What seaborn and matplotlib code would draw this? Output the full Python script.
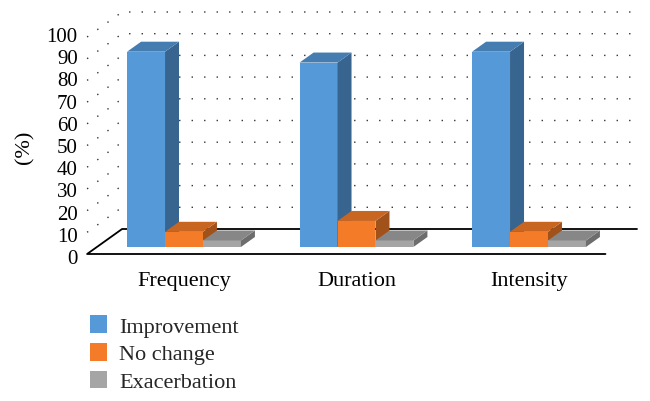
import numpy as np
import pandas as pd
import matplotlib.pyplot as plt
from matplotlib.patches import Polygon, Rectangle
import seaborn as sns

# data (percent of patients)
categories = ['Frequency', 'Duration', 'Intensity']
outcomes = ['Improvement', 'No change', 'Exacerbation']
improvement = [90, 85, 90]
no_change = [7, 12, 7]
exacerbation = [3, 3, 3]
y_ticks = list(range(0, 101, 10))

colors = ['#5599D8', '#F47C28', '#A5A5A5']

df = pd.DataFrame({
    'Category': categories * 3,
    'Outcome': np.repeat(outcomes, len(categories)),
    'Value': improvement + no_change + exacerbation,
})

sns.set_theme(style='white')
plt.rcParams['font.family'] = ['Liberation Serif', 'DejaVu Serif']

W, H = 650, 402
fig = plt.figure(figsize=(W / 100, H / 100), dpi=100)

# front plane of the bars: x unit = 172.5 px, y unit = 2.17 px
x_lo, x_hi = -0.6, 2.6
y_lo, y_hi = -10, 105
px_x = 172.5
px_y = 2.17
left_px = 184 + px_x * x_lo
base_px = 248  # pixel row of value 0 on the bar fronts
ax = fig.add_axes([left_px / W, (H - base_px + y_lo * px_y) / H,
                   (x_hi - x_lo) * px_x / W, (y_hi - y_lo) * px_y / H])

sns.barplot(data=df, x='Category', y='Value', hue='Outcome', order=categories,
            hue_order=outcomes, palette=colors, width=0.66, saturation=1,
            linewidth=0, ax=ax)
ax.set_xlim(x_lo, x_hi)
ax.set_ylim(y_lo, y_hi)
for s in ax.spines.values():
    s.set_visible(False)

# oblique depth vector (one bar depth = 14 px right, 10 px up)
ddx = 14 / px_x
ddy = 10 / px_y

# 3D sides and tops from the drawn bars
for p in list(ax.patches):
    x0, w, h = p.get_x(), p.get_width(), p.get_height()
    rgb = np.array(p.get_facecolor()[:3])
    z = 10 + x0
    p.set_zorder(z)
    top = Polygon([(x0, h), (x0 + w, h), (x0 + w + ddx, h + ddy), (x0 + ddx, h + ddy)],
                  closed=True, facecolor=rgb * 0.82, edgecolor='none', zorder=z + 0.001,
                  clip_on=False)
    side = Polygon([(x0 + w, 0), (x0 + w + ddx, ddy), (x0 + w + ddx, h + ddy), (x0 + w, h)],
                   closed=True, facecolor=rgb * 0.66, edgecolor='none', zorder=z + 0.001,
                   clip_on=False)
    ax.add_patch(side)
    ax.add_patch(top)

# floor and walls
f_left, f_right = -0.505, 2.50
d_front, d_back = -0.7, 1.8
fl = (f_left + d_front * ddx, d_front * ddy)
bl = (f_left + d_back * ddx, d_back * ddy)
fr = (f_right + d_front * ddx, d_front * ddy)
br = (f_right + d_back * ddx - 0.02, d_back * ddy)
ax.plot([fr[0], fl[0], bl[0], br[0]], [fr[1], fl[1], bl[1], br[1]],
        color='black', lw=1.3, clip_on=False, zorder=2)
for v in y_ticks[1:]:
    ax.plot([fl[0], bl[0], br[0]], [fl[1] + v, bl[1] + v, bl[1] + v],
            color='#333333', lw=1.0, ls=(0, (1, 8)), clip_on=False, zorder=1)

# value labels sit on the front edge of the floor (slightly larger scale)
front_axis = ax.secondary_yaxis(
    'left',
    functions=(lambda y: (px_y * y + 9) / 2.22, lambda v: (2.22 * v - 9) / px_y))
front_axis.set_yticks(y_ticks)
front_axis.set_yticklabels([str(t) for t in y_ticks])
front_axis.tick_params(length=0, pad=2, labelsize=15, labelcolor='black')
front_axis.spines['left'].set_visible(False)
ax.set_yticks([])

ax.tick_params(axis='x', length=0, pad=17 + y_lo * px_y * 72 / 100, labelsize=16,
               labelcolor='black')
ax.set_xlabel('')
ax.set_ylabel('')
fig.text(25 / W, 1 - 147 / H, '(%)', rotation=90, ha='center', va='center',
         fontsize=16, color='black')

sns.move_legend(ax, 'upper left', bbox_to_anchor=(90 / W, 1 - 316 / H),
                bbox_transform=fig.transFigure, frameon=False, title=None,
                fontsize=16, handlelength=0.75, handleheight=0.85,
                handletextpad=0.55, labelspacing=0.28, borderpad=0, borderaxespad=0)

# the reference image is cropped just below the last legend entry
fig.add_artist(Rectangle((0, 0), 1, 13 / H, transform=fig.transFigure,
                         facecolor='white', edgecolor='none', zorder=100))

fig.savefig('out.png', dpi=100)
